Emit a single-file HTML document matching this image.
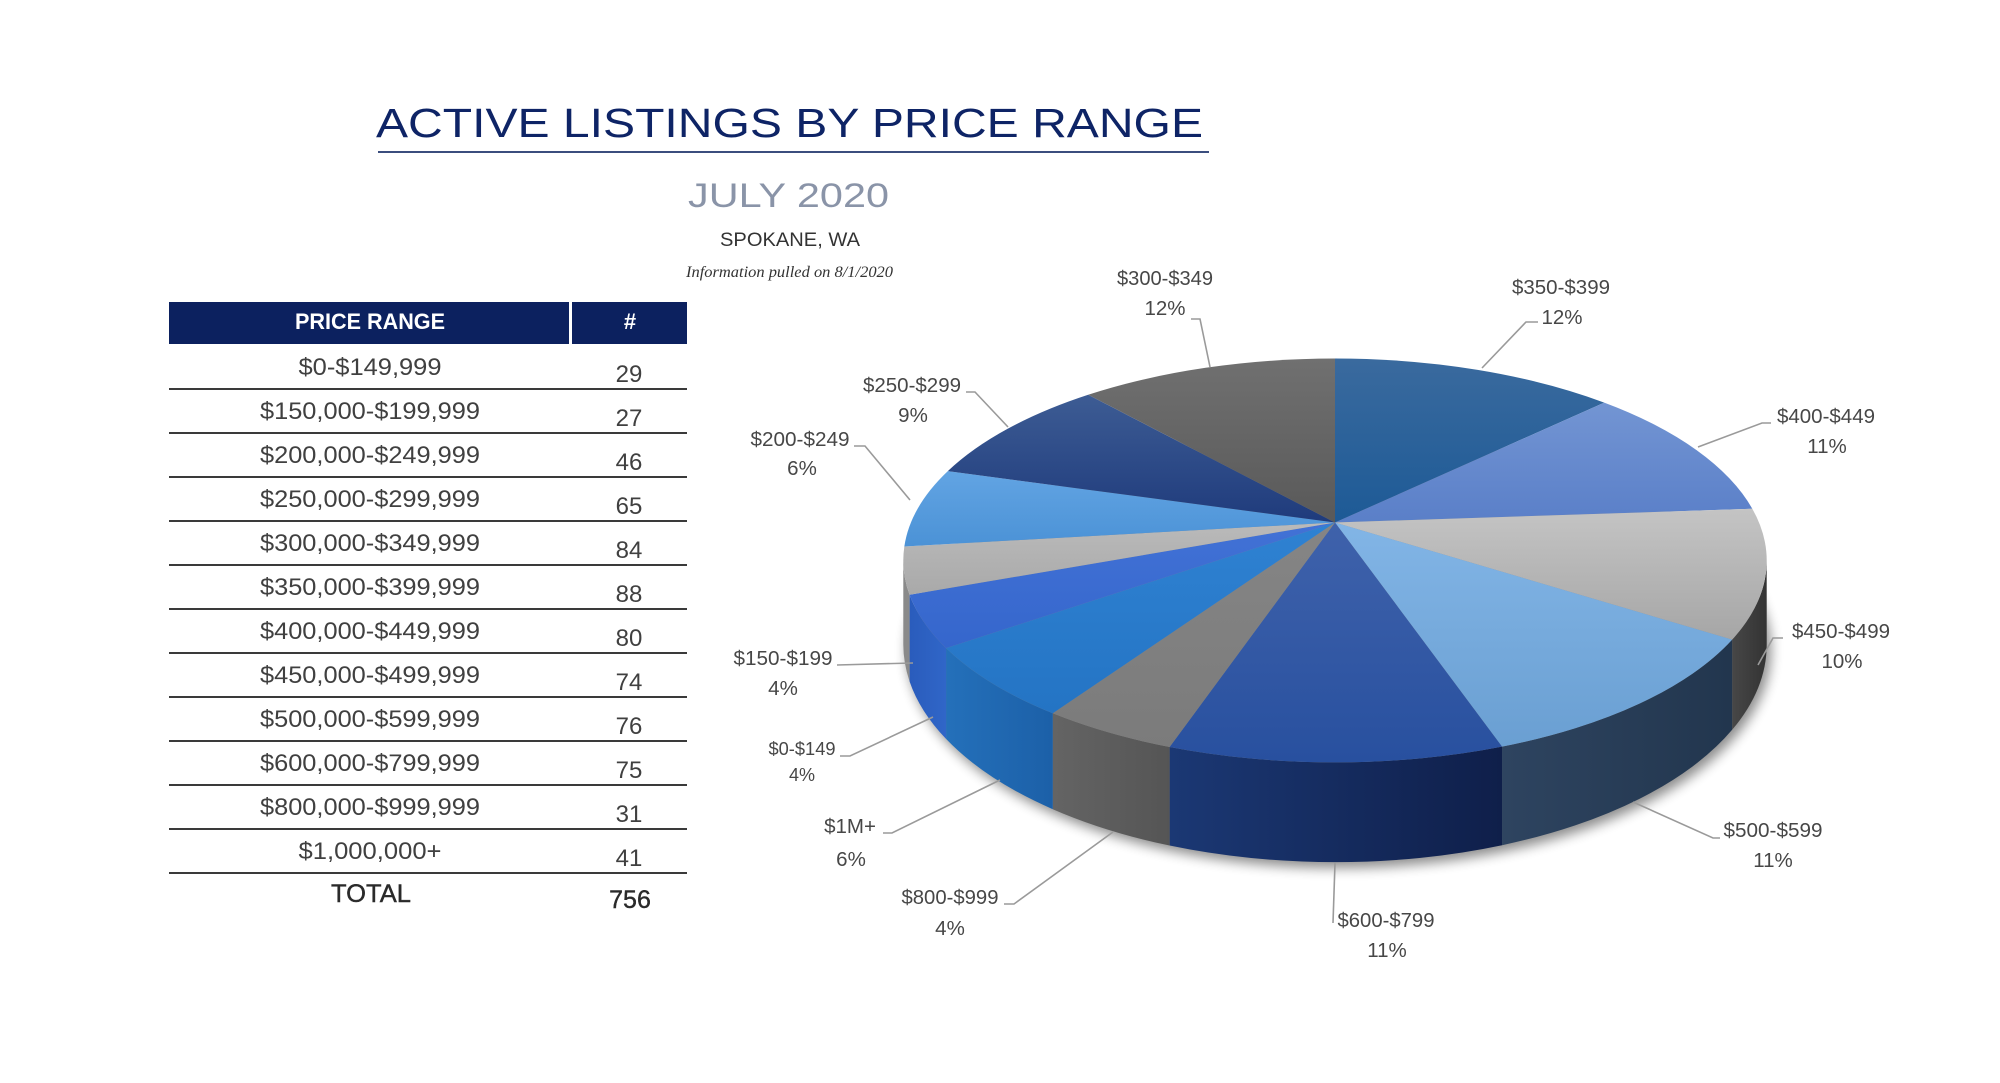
<!DOCTYPE html>
<html>
<head>
<meta charset="utf-8">
<style>
  html,body{margin:0;padding:0;background:#ffffff;}
  svg{display:block;}
  .t{font-family:"Liberation Sans",Arial,sans-serif;}
</style>
</head>
<body>
<svg width="2000" height="1083" viewBox="0 0 2000 1083" xmlns="http://www.w3.org/2000/svg">
  <defs>
    <filter id="blur" x="-20%" y="-20%" width="140%" height="140%">
      <feGaussianBlur stdDeviation="6"/>
    </filter>
    <linearGradient id="g350" x1="0" y1="0" x2="0" y2="1"><stop offset="0" stop-color="#3a6a9e"/><stop offset="1" stop-color="#1d5a96"/></linearGradient>
    <linearGradient id="g400" x1="0" y1="0" x2="0" y2="1"><stop offset="0" stop-color="#7395d3"/><stop offset="1" stop-color="#5a7fc8"/></linearGradient>
    <linearGradient id="g450" x1="0" y1="0" x2="0" y2="1"><stop offset="0" stop-color="#c4c4c4"/><stop offset="1" stop-color="#a6a6a6"/></linearGradient>
    <linearGradient id="g500" x1="0" y1="0" x2="0" y2="1"><stop offset="0" stop-color="#82b5e6"/><stop offset="1" stop-color="#6a9fd2"/></linearGradient>
    <linearGradient id="g600" x1="0" y1="0" x2="0" y2="1"><stop offset="0" stop-color="#3f62ab"/><stop offset="1" stop-color="#28509f"/></linearGradient>
    <linearGradient id="g800" x1="0" y1="0" x2="0" y2="1"><stop offset="0" stop-color="#858585"/><stop offset="1" stop-color="#7b7b7b"/></linearGradient>
    <linearGradient id="g1m" x1="0" y1="0" x2="0" y2="1"><stop offset="0" stop-color="#2f82d2"/><stop offset="1" stop-color="#2474c4"/></linearGradient>
    <linearGradient id="g0" x1="0" y1="0" x2="0" y2="1"><stop offset="0" stop-color="#4272d6"/><stop offset="1" stop-color="#3566cc"/></linearGradient>
    <linearGradient id="g150" x1="0" y1="0" x2="0" y2="1"><stop offset="0" stop-color="#bababa"/><stop offset="1" stop-color="#a9a9a9"/></linearGradient>
    <linearGradient id="g200" x1="0" y1="0" x2="0" y2="1"><stop offset="0" stop-color="#62a4e3"/><stop offset="1" stop-color="#4b92d6"/></linearGradient>
    <linearGradient id="g250" x1="0" y1="0" x2="0" y2="1"><stop offset="0" stop-color="#3d5c94"/><stop offset="1" stop-color="#1f3b7c"/></linearGradient>
    <linearGradient id="g300" x1="0" y1="0" x2="0" y2="1"><stop offset="0" stop-color="#707070"/><stop offset="1" stop-color="#595959"/></linearGradient>

    <linearGradient id="s450" x1="0" y1="0" x2="1" y2="0"><stop offset="0" stop-color="#474747"/><stop offset="1" stop-color="#333333"/></linearGradient>
    <linearGradient id="s500" x1="0" y1="0" x2="1" y2="0"><stop offset="0" stop-color="#2e4460"/><stop offset="1" stop-color="#22364e"/></linearGradient>
    <linearGradient id="s600" x1="0" y1="0" x2="1" y2="0"><stop offset="0" stop-color="#1b3874"/><stop offset="1" stop-color="#0f1f4a"/></linearGradient>
    <linearGradient id="s800" x1="0" y1="0" x2="1" y2="0"><stop offset="0" stop-color="#646464"/><stop offset="1" stop-color="#555555"/></linearGradient>
    <linearGradient id="s1m" x1="0" y1="0" x2="1" y2="0"><stop offset="0" stop-color="#2470ba"/><stop offset="1" stop-color="#1c60a8"/></linearGradient>
    <linearGradient id="s0" x1="0" y1="0" x2="1" y2="0"><stop offset="0" stop-color="#2a5cbc"/><stop offset="1" stop-color="#3066c8"/></linearGradient>
  </defs>

  <!-- ===== Titles ===== -->
  <text class="t" x="376" y="137" font-size="41" fill="#0e2466" textLength="827" lengthAdjust="spacingAndGlyphs">ACTIVE LISTINGS BY PRICE RANGE</text>
  <line x1="378" y1="152" x2="1209" y2="152" stroke="#3b4e7e" stroke-width="2"/>
  <text class="t" x="688" y="207" font-size="34" fill="#8a94a8" textLength="201" lengthAdjust="spacingAndGlyphs">JULY 2020</text>
  <text class="t" x="720" y="246" font-size="19.5" fill="#333333" textLength="140" lengthAdjust="spacingAndGlyphs">SPOKANE, WA</text>
  <text x="686" y="277" font-family="'Liberation Serif',serif" font-style="italic" font-size="16" fill="#333333" textLength="207" lengthAdjust="spacingAndGlyphs">Information pulled on 8/1/2020</text>

  <!-- ===== Table ===== -->
  <rect x="169" y="302" width="400" height="42" fill="#0c215f"/>
  <rect x="572" y="302" width="115" height="42" fill="#0c215f"/>
  <text class="t" x="370" y="329" font-size="22" font-weight="bold" fill="#ffffff" text-anchor="middle" textLength="150" lengthAdjust="spacingAndGlyphs">PRICE RANGE</text>
  <text class="t" x="630" y="329" font-size="22" font-weight="bold" fill="#ffffff" text-anchor="middle">#</text>

  <g stroke="#3a3a3a" stroke-width="2">
    <line x1="169" y1="389" x2="687" y2="389"/>
    <line x1="169" y1="433" x2="687" y2="433"/>
    <line x1="169" y1="477" x2="687" y2="477"/>
    <line x1="169" y1="521" x2="687" y2="521"/>
    <line x1="169" y1="565" x2="687" y2="565"/>
    <line x1="169" y1="609" x2="687" y2="609"/>
    <line x1="169" y1="653" x2="687" y2="653"/>
    <line x1="169" y1="697" x2="687" y2="697"/>
    <line x1="169" y1="741" x2="687" y2="741"/>
    <line x1="169" y1="785" x2="687" y2="785"/>
    <line x1="169" y1="829" x2="687" y2="829"/>
    <line x1="169" y1="873" x2="687" y2="873"/>
  </g>

  <g class="t" font-size="24" fill="#404040" text-anchor="middle">
    <text x="370" y="375" textLength="143" lengthAdjust="spacingAndGlyphs">$0-$149,999</text>
    <text x="370" y="419" textLength="220" lengthAdjust="spacingAndGlyphs">$150,000-$199,999</text>
    <text x="370" y="463" textLength="220" lengthAdjust="spacingAndGlyphs">$200,000-$249,999</text>
    <text x="370" y="507" textLength="220" lengthAdjust="spacingAndGlyphs">$250,000-$299,999</text>
    <text x="370" y="551" textLength="220" lengthAdjust="spacingAndGlyphs">$300,000-$349,999</text>
    <text x="370" y="595" textLength="220" lengthAdjust="spacingAndGlyphs">$350,000-$399,999</text>
    <text x="370" y="639" textLength="220" lengthAdjust="spacingAndGlyphs">$400,000-$449,999</text>
    <text x="370" y="683" textLength="220" lengthAdjust="spacingAndGlyphs">$450,000-$499,999</text>
    <text x="370" y="727" textLength="220" lengthAdjust="spacingAndGlyphs">$500,000-$599,999</text>
    <text x="370" y="771" textLength="220" lengthAdjust="spacingAndGlyphs">$600,000-$799,999</text>
    <text x="370" y="815" textLength="220" lengthAdjust="spacingAndGlyphs">$800,000-$999,999</text>
    <text x="370" y="859" textLength="143" lengthAdjust="spacingAndGlyphs">$1,000,000+</text>

    <text x="629" y="382">29</text>
    <text x="629" y="426">27</text>
    <text x="629" y="470">46</text>
    <text x="629" y="514">65</text>
    <text x="629" y="558">84</text>
    <text x="629" y="602">88</text>
    <text x="629" y="646">80</text>
    <text x="629" y="690">74</text>
    <text x="629" y="734">76</text>
    <text x="629" y="778">75</text>
    <text x="629" y="822">31</text>
    <text x="629" y="866">41</text>
  </g>
  <text class="t" x="371" y="902" font-size="25" fill="#2a2a2a" stroke="#2a2a2a" stroke-width="0.4" text-anchor="middle" textLength="80" lengthAdjust="spacingAndGlyphs">TOTAL</text>
  <text class="t" x="630" y="908" font-size="25" fill="#2a2a2a" stroke="#2a2a2a" stroke-width="0.4" text-anchor="middle">756</text>

  <!-- ===== Pie shadow ===== -->
  <ellipse cx="1339" cy="650" rx="432" ry="218" fill="#000" opacity="0.45" filter="url(#blur)"/>

  <!-- ===== Pie side ===== -->
  <g>
    <path d="M1766.7,560.33 A431.7,201.9 0 0 1 1732.14,639.64 L1732.14,729.80 A431.7,217.73 0 0 0 1766.7,644.29 Z" fill="url(#s450)"/>
    <path d="M1732.14,639.64 A431.7,201.9 0 0 1 1502.05,746.67 L1502.05,845.19 A431.7,217.73 0 0 0 1732.14,729.80 Z" fill="url(#s500)"/>
    <path d="M1502.05,746.67 A431.7,201.9 0 0 1 1169.61,747.0 L1169.61,845.55 A431.7,217.73 0 0 0 1502.05,845.19 Z" fill="url(#s600)"/>
    <path d="M1169.61,747.0 A431.7,201.9 0 0 1 1052.80,713.28 L1052.80,809.19 A431.7,217.73 0 0 0 1169.61,845.55 Z" fill="url(#s800)"/>
    <path d="M1052.80,713.28 A431.7,201.9 0 0 1 946.06,648.09 L946.06,738.91 A431.7,217.73 0 0 0 1052.80,809.19 Z" fill="url(#s1m)"/>
    <path d="M946.06,648.09 A431.7,201.9 0 0 1 909.59,594.8 L909.59,681.45 A431.7,217.73 0 0 0 946.06,738.91 Z" fill="url(#s0)"/>
    <path d="M909.59,594.8 A431.7,201.9 0 0 1 903.30,560.33 L903.30,644.29 A431.7,217.73 0 0 0 909.59,681.45 Z" fill="#8a8a8a"/>
  </g>

  <!-- ===== Pie top ===== -->
  <g>
    <path d="M1335,522.5 L1335,358.53 A431.7,201.9 0 0 1 1604.25,402.62 Z" fill="url(#g350)"/>
    <path d="M1335,522.5 L1604.25,402.62 A431.7,201.9 0 0 1 1752.31,508.76 Z" fill="url(#g400)"/>
    <path d="M1335,522.5 L1752.31,508.76 A431.7,201.9 0 0 1 1732.14,639.64 Z" fill="url(#g450)"/>
    <path d="M1335,522.5 L1732.14,639.64 A431.7,201.9 0 0 1 1502.05,746.67 Z" fill="url(#g500)"/>
    <path d="M1335,522.5 L1502.05,746.67 A431.7,201.9 0 0 1 1169.61,747.0 Z" fill="url(#g600)"/>
    <path d="M1335,522.5 L1169.61,747.0 A431.7,201.9 0 0 1 1052.80,713.28 Z" fill="url(#g800)"/>
    <path d="M1335,522.5 L1052.80,713.28 A431.7,201.9 0 0 1 946.06,648.09 Z" fill="url(#g1m)"/>
    <path d="M1335,522.5 L946.06,648.09 A431.7,201.9 0 0 1 909.59,594.8 Z" fill="url(#g0)"/>
    <path d="M1335,522.5 L909.59,594.8 A431.7,201.9 0 0 1 904.34,546.44 Z" fill="url(#g150)"/>
    <path d="M1335,522.5 L904.34,546.44 A431.7,201.9 0 0 1 947.81,471.16 Z" fill="url(#g200)"/>
    <path d="M1335,522.5 L947.81,471.16 A431.7,201.9 0 0 1 1088.19,394.78 Z" fill="url(#g250)"/>
    <path d="M1335,522.5 L1088.19,394.78 A431.7,201.9 0 0 1 1335,358.53 Z" fill="url(#g300)"/>
  </g>

  <!-- ===== Leader lines ===== -->
  <g stroke="#9a9a9a" stroke-width="1.6" fill="none">
    <polyline points="1191,319 1200,319 1210,367"/>
    <polyline points="1538,322 1526,322 1482,368"/>
    <polyline points="1771,423 1762,423 1698,447"/>
    <polyline points="1783,638 1773,638 1758,665"/>
    <polyline points="1720,838 1713,838 1633,802"/>
    <polyline points="1333,923 1335,863"/>
    <polyline points="1004,904 1014,904 1113,832"/>
    <polyline points="883,833 892,833 1000,780"/>
    <polyline points="840,756 850,756 933,717"/>
    <polyline points="837,665 913,663"/>
    <polyline points="854,446 865,446 910,500"/>
    <polyline points="966,392 975,392 1008,427"/>
  </g>

  <!-- ===== Labels ===== -->
  <g class="t" font-size="20.5" fill="#474747" text-anchor="middle">
    <text x="1165" y="285" textLength="96" lengthAdjust="spacingAndGlyphs">$300-$349</text>
    <text x="1165" y="315">12%</text>
    <text x="1561" y="294" textLength="98" lengthAdjust="spacingAndGlyphs">$350-$399</text>
    <text x="1562" y="324">12%</text>
    <text x="1826" y="423" textLength="98" lengthAdjust="spacingAndGlyphs">$400-$449</text>
    <text x="1827" y="453">11%</text>
    <text x="1841" y="638" textLength="98" lengthAdjust="spacingAndGlyphs">$450-$499</text>
    <text x="1842" y="668">10%</text>
    <text x="1773" y="837" textLength="99" lengthAdjust="spacingAndGlyphs">$500-$599</text>
    <text x="1773" y="867">11%</text>
    <text x="1386" y="927" textLength="97" lengthAdjust="spacingAndGlyphs">$600-$799</text>
    <text x="1387" y="957">11%</text>
    <text x="950" y="904" textLength="97" lengthAdjust="spacingAndGlyphs">$800-$999</text>
    <text x="950" y="935">4%</text>
    <text x="850" y="833">$1M+</text>
    <text x="851" y="866">6%</text>
    <text x="783" y="665" textLength="99" lengthAdjust="spacingAndGlyphs">$150-$199</text>
    <text x="783" y="695">4%</text>
    <text x="800" y="446" textLength="99" lengthAdjust="spacingAndGlyphs">$200-$249</text>
    <text x="802" y="475">6%</text>
    <text x="912" y="392" textLength="98" lengthAdjust="spacingAndGlyphs">$250-$299</text>
    <text x="913" y="422">9%</text>
  </g>
  <g class="t" font-size="18" fill="#474747" text-anchor="middle">
    <text x="802" y="755" textLength="67" lengthAdjust="spacingAndGlyphs">$0-$149</text>
    <text x="802" y="781">4%</text>
  </g>
</svg>
</body>
</html>
